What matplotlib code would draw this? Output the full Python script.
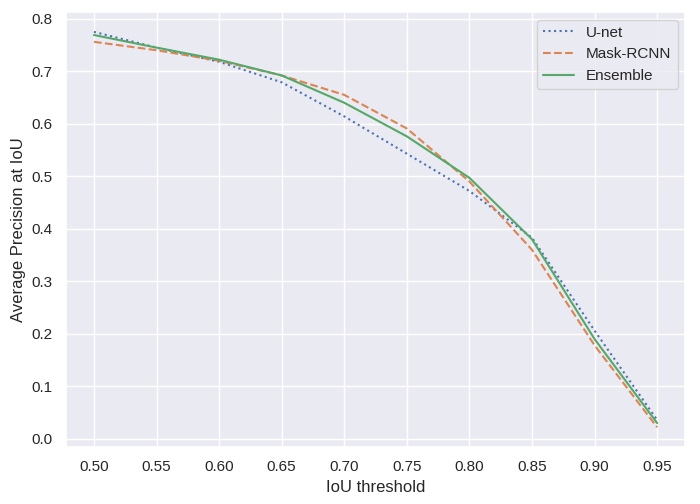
import numpy as np
import matplotlib
matplotlib.use("Agg")
import matplotlib.pyplot as plt
import seaborn as sns

# IoU thresholds and per-model average precision
thresholds = [0.50, 0.55, 0.60, 0.65, 0.70, 0.75, 0.80, 0.85, 0.90, 0.95]
unet = [0.775, 0.745, 0.718, 0.679, 0.614, 0.543, 0.472, 0.383, 0.206, 0.036]
mask_rcnn = [0.756, 0.740, 0.720, 0.692, 0.655, 0.591, 0.490, 0.360, 0.178, 0.022]
ensemble = [0.769, 0.745, 0.722, 0.692, 0.640, 0.576, 0.497, 0.380, 0.190, 0.030]

xticks = [0.50, 0.55, 0.60, 0.65, 0.70, 0.75, 0.80, 0.85, 0.90, 0.95]

sns.set_theme(style="darkgrid")
plt.rcParams["font.family"] = ["Liberation Sans", "DejaVu Sans"]

fig, ax = plt.subplots(figsize=(7, 5.04), dpi=100)
fig.subplots_adjust(left=0.094, right=0.979, top=0.976, bottom=0.113)

ax.plot(thresholds, unet, linestyle=":", label="U-net")
ax.plot(thresholds, mask_rcnn, linestyle="--", label="Mask-RCNN")
ax.plot(thresholds, ensemble, linestyle="-", label="Ensemble")

ax.set_xticks(xticks)
ax.set_xticklabels([f"{t:.2f}" for t in xticks])
ax.set_xlabel("IoU threshold")
ax.set_ylabel("Average Precision at IoU")
ax.legend(loc="upper right")

fig.savefig("out.png", dpi=100)
